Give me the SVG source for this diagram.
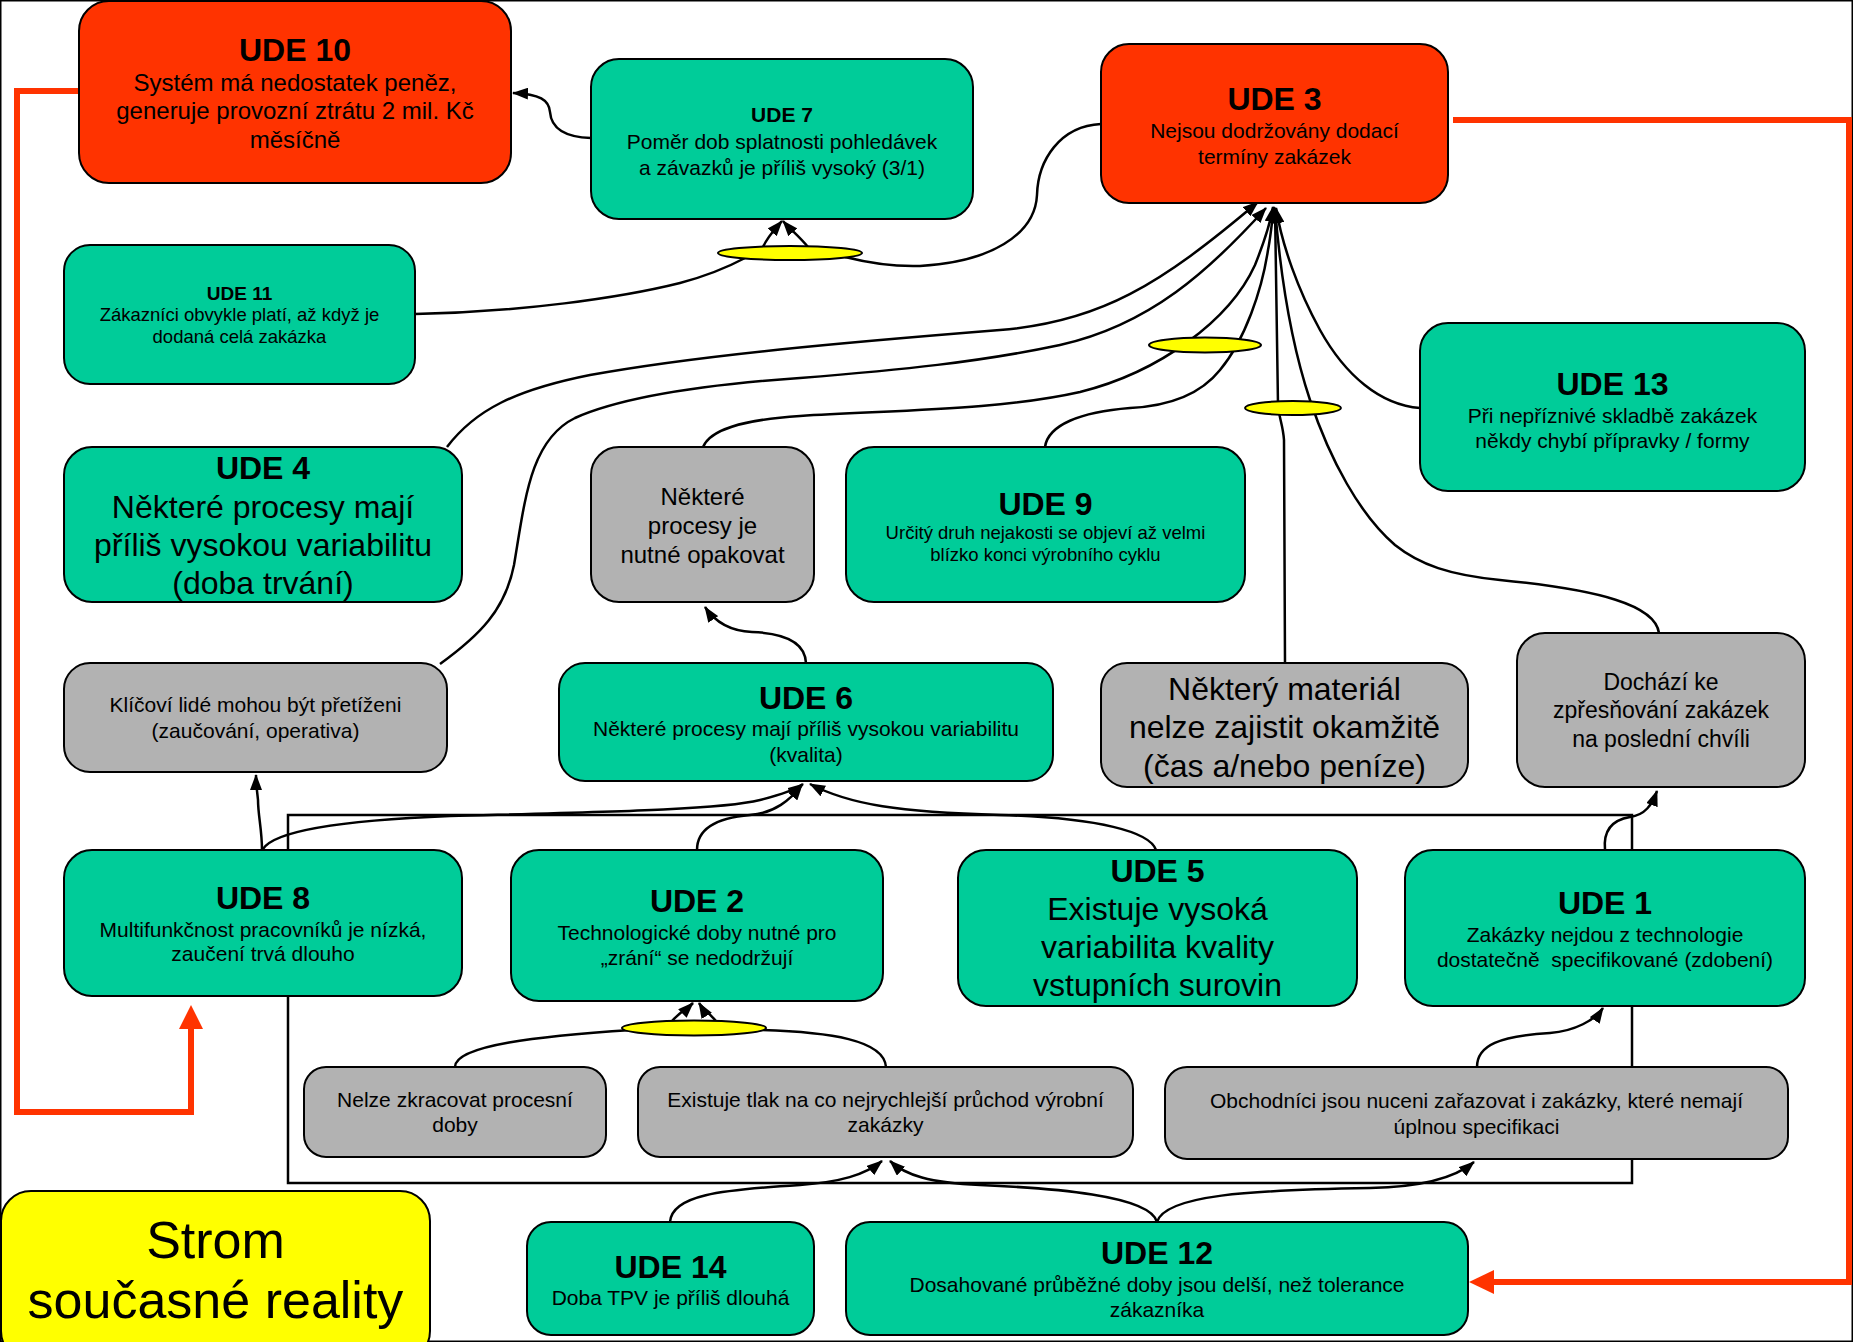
<svg xmlns="http://www.w3.org/2000/svg" width="1853" height="1342" viewBox="0 0 1853 1342">
<defs>
<style>
.n{stroke:#000;stroke-width:2}
.g{fill:#00CC99}
.r{fill:#FF3300}
.gr{fill:#B2B2B2}
.y{fill:#FFFF00}
text{font-family:"Liberation Sans",Arial,sans-serif;text-anchor:middle;fill:#000}
.b32{font-size:32px;font-weight:bold}
.b21{font-size:21px;font-weight:bold}
.b19{font-size:19px;font-weight:bold}
.s32{font-size:32px}
.s24{font-size:24px}
.s23{font-size:23px}
.s21{font-size:21px}
.s18{font-size:18.5px}
.s52{font-size:52px}
.c{fill:none;stroke:#000;stroke-width:2.5}
.and{fill:#FFFF00;stroke:#000;stroke-width:2}
.red{fill:none;stroke:#FF3300;stroke-width:6;stroke-linejoin:miter}
</style>
<marker id="ah" markerUnits="userSpaceOnUse" markerWidth="16" markerHeight="12" refX="15" refY="6" orient="auto">
<path d="M0,0 L16,6 L0,12 z" fill="#000"/>
</marker>
</defs>
<rect x="0.75" y="0.75" width="1851.5" height="1340.5" fill="#fff" stroke="#000" stroke-width="1.5"/>
<rect id="frame" x="288" y="815" width="1344" height="368" fill="none" stroke="#000" stroke-width="2.5"/>

<g id="connectors">
<path class="c" marker-end="url(#ah)" d="M591 138 C560 137,551 125,550 112 C549 100,540 94,513 93"/>
<path class="c" d="M415 314 C520 312,620 298,680 283 C710 275,730 266,745 258"/>
<path class="c" d="M1101 124 C1060 126,1038 160,1037 195 C1035 235,990 262,920 266 C890 267,865 262,845 257"/>
<path class="c" marker-end="url(#ah)" d="M763 247 C768 236,775 229,782 221"/>
<path class="c" marker-end="url(#ah)" d="M808 247 C800 237,790 229,783 221"/>
<path class="c" marker-end="url(#ah)" d="M447 447 C475 410,515 390,590 375 C700 355,850 342,1000 330 C1100 322,1160 285,1258 202"/>
<path class="c" marker-end="url(#ah)" d="M440 664 C480 635,505 610,514 565 C525 500,530 440,575 418 C620 398,700 385,800 378 C900 370,980 362,1060 345 C1150 325,1210 270,1266 208"/>
<path class="c" marker-end="url(#ah)" d="M703 447 C710 430,740 420,800 416 C900 410,1000 410,1080 392 C1160 372,1230 320,1255 265 C1265 240,1270 225,1273 207"/>
<path class="c" marker-end="url(#ah)" d="M1045 447 C1048 425,1080 412,1130 408 C1170 406,1200 395,1220 370 C1245 340,1262 290,1268 250 C1271 235,1272 220,1274 207"/>
<path class="c" marker-end="url(#ah)" d="M1285 663 L1284 440 C1283 425,1279 418,1278 405 L1275 208"/>
<path class="c" marker-end="url(#ah)" d="M1659 633 C1655 605,1600 590,1500 580 C1450 575,1420 565,1395 545 C1360 515,1330 460,1310 400 C1290 340,1280 270,1275 208"/>
<path class="c" marker-end="url(#ah)" d="M1420 408 C1380 405,1345 375,1320 330 C1298 290,1282 245,1276 208"/>
<path class="c" marker-end="url(#ah)" d="M806 663 C805 640,780 633,752 632 C730 631,715 622,705 607"/>
<path class="c" marker-end="url(#ah)" d="M262 850 C262 830,258 815,258 800 C257 790,256 785,256 775"/>
<path class="c" marker-end="url(#ah)" d="M263 849 C275 830,350 820,450 816 C600 812,720 810,760 800 C780 795,795 790,803 784"/>
<path class="c" marker-end="url(#ah)" d="M697 850 C697 830,715 818,750 815 C775 813,790 800,802 785"/>
<path class="c" marker-end="url(#ah)" d="M1156 850 C1150 832,1100 818,1000 815 C900 812,850 805,810 784"/>
<path class="c" marker-end="url(#ah)" d="M1605 850 C1603 830,1612 820,1630 817 C1645 815,1652 805,1657 791"/>
<path class="c" d="M455 1067 C455 1045,540 1036,632 1030"/>
<path class="c" d="M886 1067 C884 1040,830 1032,760 1030"/>
<path class="c" marker-end="url(#ah)" d="M672 1021 C680 1012,688 1008,693 1003"/>
<path class="c" marker-end="url(#ah)" d="M716 1021 C708 1012,702 1008,699 1003"/>
<path class="c" marker-end="url(#ah)" d="M670 1222 C672 1195,720 1190,800 1185 C840 1182,865 1175,882 1161"/>
<path class="c" marker-end="url(#ah)" d="M1157 1222 C1150 1195,1050 1188,980 1185 C930 1183,905 1175,890 1161"/>
<path class="c" marker-end="url(#ah)" d="M1157 1222 C1165 1195,1250 1190,1370 1188 C1420 1187,1455 1178,1474 1162"/>
<path class="c" marker-end="url(#ah)" d="M1477 1067 C1477 1045,1500 1036,1550 1033 C1575 1031,1595 1020,1603 1008"/>
<ellipse class="and" cx="790" cy="253" rx="72" ry="7"/>
<ellipse class="and" cx="1205" cy="345" rx="56" ry="7.5"/>
<ellipse class="and" cx="1293" cy="408" rx="48" ry="7"/>
<ellipse class="and" cx="694" cy="1028" rx="72" ry="7.5"/>
<path class="red" d="M79 91 L17 91 L17 1112 L191 1112 L191 1026"/>
<polygon points="191,1005 179,1029 203,1029" fill="#FF3300"/>
<path class="red" d="M1453 120 L1849 120 L1849 1282 L1492 1282"/>
<polygon points="1469,1282 1494,1270 1494,1294" fill="#FF3300"/>
</g>

<g id="ude10"><rect class="n r" x="79" y="1" width="432" height="182" rx="30"/>
<text x="295" y="61" class="b32">UDE 10</text>
<text x="295" y="91" class="s24">Systém má nedostatek peněz,</text>
<text x="295" y="119" class="s24">generuje provozní ztrátu 2 mil. Kč</text>
<text x="295" y="148" class="s24">měsíčně</text></g>

<g id="ude7"><rect class="n g" x="591" y="59" width="382" height="160" rx="28"/>
<text x="782" y="122" class="b21">UDE 7</text>
<text x="782" y="149" class="s21">Poměr dob splatnosti pohledávek</text>
<text x="782" y="175" class="s21">a závazků je příliš vysoký (3/1)</text></g>

<g id="ude3"><rect class="n r" x="1101" y="44" width="347" height="159" rx="28"/>
<text x="1274.5" y="110" class="b32">UDE 3</text>
<text x="1274.5" y="138" class="s21">Nejsou dodržovány dodací</text>
<text x="1274.5" y="164" class="s21">termíny zakázek</text></g>

<g id="ude11"><rect class="n g" x="64" y="245" width="351" height="139" rx="26"/>
<text x="239.5" y="300" class="b19">UDE 11</text>
<text x="239.5" y="321" class="s18">Zákazníci obvykle platí, až když je</text>
<text x="239.5" y="343" class="s18">dodaná celá zakázka</text></g>

<g id="ude13"><rect class="n g" x="1420" y="323" width="385" height="168" rx="28"/>
<text x="1612.5" y="395" class="b32">UDE 13</text>
<text x="1612.5" y="423" class="s21">Při nepříznivé skladbě zakázek</text>
<text x="1612.5" y="448" class="s21">někdy chybí přípravky / formy</text></g>

<g id="ude4"><rect class="n g" x="64" y="447" width="398" height="155" rx="28"/>
<text x="263" y="479" class="b32">UDE 4</text>
<text x="263" y="518" class="s32">Některé procesy mají</text>
<text x="263" y="556" class="s32">příliš vysokou variabilitu</text>
<text x="263" y="594" class="s32">(doba trvání)</text></g>

<g id="opakovat"><rect class="n gr" x="591" y="447" width="223" height="155" rx="28"/>
<text x="702.5" y="505" class="s24">Některé</text>
<text x="702.5" y="534" class="s24">procesy je</text>
<text x="702.5" y="563" class="s24">nutné opakovat</text></g>

<g id="ude9"><rect class="n g" x="846" y="447" width="399" height="155" rx="28"/>
<text x="1045.5" y="515" class="b32">UDE 9</text>
<text x="1045.5" y="539" class="s18">Určitý druh nejakosti se objeví až velmi</text>
<text x="1045.5" y="561" class="s18">blízko konci výrobního cyklu</text></g>

<g id="klicovi"><rect class="n gr" x="64" y="663" width="383" height="109" rx="26"/>
<text x="255.5" y="712" class="s21">Klíčoví lidé mohou být přetíženi</text>
<text x="255.5" y="738" class="s21">(zaučování, operativa)</text></g>

<g id="ude6"><rect class="n g" x="559" y="663" width="494" height="118" rx="26"/>
<text x="806" y="709" class="b32">UDE 6</text>
<text x="806" y="736" class="s21">Některé procesy mají příliš vysokou variabilitu</text>
<text x="806" y="762" class="s21">(kvalita)</text></g>

<g id="material"><rect class="n gr" x="1101" y="663" width="367" height="124" rx="26"/>
<text x="1284.5" y="700" class="s32">Některý materiál</text>
<text x="1284.5" y="738" class="s32">nelze zajistit okamžitě</text>
<text x="1284.5" y="777" class="s32">(čas a/nebo peníze)</text></g>

<g id="dochazi"><rect class="n gr" x="1517" y="633" width="288" height="154" rx="28"/>
<text x="1661" y="690" class="s23">Dochází ke</text>
<text x="1661" y="718" class="s23">zpřesňování zakázek</text>
<text x="1661" y="747" class="s23">na poslední chvíli</text></g>

<g id="ude8"><rect class="n g" x="64" y="850" width="398" height="146" rx="28"/>
<text x="263" y="909" class="b32">UDE 8</text>
<text x="263" y="937" class="s21">Multifunkčnost pracovníků je nízká,</text>
<text x="263" y="961" class="s21">zaučení trvá dlouho</text></g>

<g id="ude2"><rect class="n g" x="511" y="850" width="372" height="151" rx="28"/>
<text x="697" y="912" class="b32">UDE 2</text>
<text x="697" y="940" class="s21">Technologické doby nutné pro</text>
<text x="697" y="965" class="s21">„zrání“ se nedodržují</text></g>

<g id="ude5"><rect class="n g" x="958" y="850" width="399" height="156" rx="28"/>
<text x="1157.5" y="882" class="b32">UDE 5</text>
<text x="1157.5" y="920" class="s32">Existuje vysoká</text>
<text x="1157.5" y="958" class="s32">variabilita kvality</text>
<text x="1157.5" y="996" class="s32">vstupních surovin</text></g>

<g id="ude1"><rect class="n g" x="1405" y="850" width="400" height="156" rx="28"/>
<text x="1605" y="914" class="b32">UDE 1</text>
<text x="1605" y="942" class="s21">Zakázky nejdou z technologie</text>
<text x="1605" y="967" class="s21" xml:space="preserve">dostatečně  specifikované (zdobení)</text></g>

<g id="nelze"><rect class="n gr" x="304" y="1067" width="302" height="90" rx="22"/>
<text x="455" y="1107" class="s21">Nelze zkracovat procesní</text>
<text x="455" y="1132" class="s21">doby</text></g>

<g id="tlak"><rect class="n gr" x="638" y="1067" width="495" height="90" rx="22"/>
<text x="885.5" y="1107" class="s21">Existuje tlak na co nejrychlejší průchod výrobní</text>
<text x="885.5" y="1132" class="s21">zakázky</text></g>

<g id="obchodnici"><rect class="n gr" x="1165" y="1067" width="623" height="92" rx="22"/>
<text x="1476.5" y="1108" class="s21">Obchodníci jsou nuceni zařazovat i zakázky, které nemají</text>
<text x="1476.5" y="1134" class="s21">úplnou specifikaci</text></g>

<g id="ude14"><rect class="n g" x="527" y="1222" width="287" height="113" rx="24"/>
<text x="670.5" y="1278" class="b32">UDE 14</text>
<text x="670.5" y="1305" class="s21">Doba TPV je příliš dlouhá</text></g>

<g id="ude12"><rect class="n g" x="846" y="1222" width="622" height="113" rx="24"/>
<text x="1157" y="1264" class="b32">UDE 12</text>
<text x="1157" y="1292" class="s21">Dosahované průběžné doby jsou delší, než tolerance</text>
<text x="1157" y="1317" class="s21">zákazníka</text></g>

<g id="strom"><rect class="n y" x="1" y="1191" width="429" height="170" rx="30"/>
<text x="215.5" y="1258" class="s52">Strom</text>
<text x="215.5" y="1318" class="s52">současné reality</text></g>
</svg>
